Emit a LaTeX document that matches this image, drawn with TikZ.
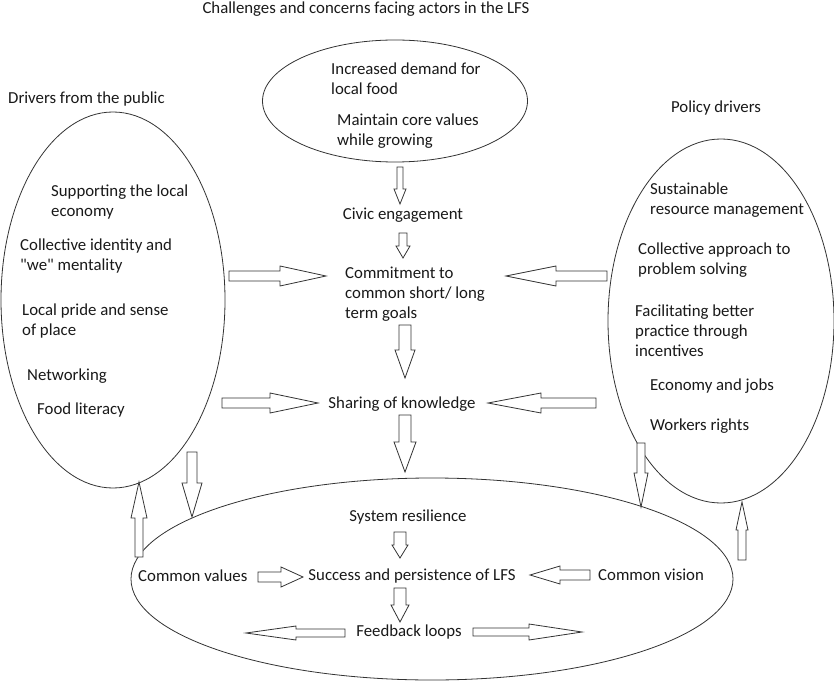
\documentclass[tikz,border=0pt]{standalone}
\usepackage{fontspec}
\setmainfont{Carlito}
\usetikzlibrary{shapes.geometric}
\newcommand{\blockarrow}[5]{%
  \path (#1); \pgfgetlastxy{\baAx}{\baAy}%
  \path (#2); \pgfgetlastxy{\baBx}{\baBy}%
  \pgfmathsetmacro\baAng{atan2(\baBy-\baAy,\baBx-\baAx)}%
  \pgfmathsetmacro\baLen{veclen(\baBx-\baAx,\baBy-\baAy)}%
  \pgfmathsetmacro\baHb{\baLen-#5}%
  \begin{scope}[shift={(\baAx,\baAy)},rotate=\baAng]
    \draw[blk] (0pt,#3pt) -- (\baHb pt,#3pt) -- (\baHb pt,#4pt) -- (\baLen pt,0pt)
      -- (\baHb pt,-#4pt) -- (\baHb pt,-#3pt) -- (0pt,-#3pt) -- cycle;
  \end{scope}}
\begin{document}
\begin{tikzpicture}[x=1pt,y=-1pt,
  lbl/.style={inner sep=0pt, align=left, text=black!90, font=\fontsize{16.8}{20}\selectfont},
  ell/.style={draw=black!80, line width=0.8pt, ellipse, inner sep=0pt},
  blk/.style={draw=black!80, line width=0.8pt, fill=white, line join=miter}]
\useasboundingbox[fill=white] (0,0) rectangle (834,684);

% titles
\node[lbl] (title) at (366,9) {Challenges and concerns facing actors in the LFS};
\node[lbl, anchor=west] (pubtitle) at (8,99) {Drivers from the public};
\node[lbl] (poltitle) at (716,108) {Policy drivers};

% ellipses
\node[ell, minimum width=265pt, minimum height=122pt] (top) at (395,101) {};
\node[ell, minimum width=224pt, minimum height=376pt] (pub) at (113,300) {};
\node[ell, minimum width=226pt, minimum height=364pt] (pol) at (721,321) {};
\node[ell, minimum width=602pt, minimum height=202pt] (bot) at (432,579) {};

% top ellipse text
\node[lbl, anchor=west] (demand) at (331,79) {Increased demand for\\local food};
\node[lbl, anchor=west] (core) at (337,131) {Maintain core values\\while growing};

% public drivers
\node[lbl, anchor=west] (econ) at (51,202) {Supporting the local\\economy};
\node[lbl, anchor=west] (ident) at (20,256) {Collective identity and\\\textquotedbl we\textquotedbl{} mentality};
\node[lbl, anchor=west] (pride) at (22,321) {Local pride and sense\\of place};
\node[lbl, anchor=west] (netw) at (27,376) {Networking};
\node[lbl, anchor=west] (lit) at (37,410) {Food literacy};

% policy drivers
\node[lbl, anchor=west] (sust) at (650,200) {Sustainable\\resource management};
\node[lbl, anchor=west] (coll) at (638,260) {Collective approach to\\problem solving};
\node[lbl, anchor=west] (facil) at (635,331) {Facilitating better\\practice through\\incentives};
\node[lbl, anchor=west] (jobs) at (650,386) {Economy and jobs};
\node[lbl, anchor=west] (work) at (650,426) {Workers rights};

% centre column
\node[lbl] (civic) at (403,215) {Civic engagement};
\node[lbl, anchor=west] (commit) at (345,294) {Commitment to\\common short/ long\\term goals};
\node[lbl] (share) at (402,404) {Sharing of knowledge};

% bottom ellipse text
\node[lbl] (resil) at (408,517) {System resilience};
\node[lbl, anchor=west] (cval) at (138,576) {Common values};
\node[lbl] (succ) at (412,576) {Success and persistence of LFS};
\node[lbl, anchor=west] (cvis) at (598,575) {Common vision};
\node[lbl] (feed) at (409,632) {Feedback loops};

% arrow end points
\coordinate (a1s) at (400,167);  \coordinate (a1e) at (400,204);
\coordinate (a2s) at (403,233);  \coordinate (a2e) at (403,258);
\coordinate (a3s) at (405,325);  \coordinate (a3e) at (405,378);
\coordinate (a4s) at (405,415);  \coordinate (a4e) at (405,472);
\coordinate (a5s) at (229,276);  \coordinate (a5e) at (326,276);
\coordinate (a6s) at (222,403);  \coordinate (a6e) at (318,403);
\coordinate (a7s) at (607,276);  \coordinate (a7e) at (506,276);
\coordinate (a8s) at (596,403);  \coordinate (a8e) at (488,403);
\coordinate (a9s) at (192,452);  \coordinate (a9e) at (192,517);
\coordinate (a10s) at (139,557); \coordinate (a10e) at (139,482);
\coordinate (a11s) at (641,443); \coordinate (a11e) at (641,507);
\coordinate (a12s) at (742,560); \coordinate (a12e) at (742,502);
\coordinate (a13s) at (400,532); \coordinate (a13e) at (400,558);
\coordinate (a14s) at (400,588); \coordinate (a14e) at (400,622);
\coordinate (a15s) at (258,577); \coordinate (a15e) at (303,577);
\coordinate (a16s) at (590,575); \coordinate (a16e) at (530,575);
\coordinate (a17s) at (345,633); \coordinate (a17e) at (246,633);
\coordinate (a18s) at (473,632); \coordinate (a18e) at (582,632);

\blockarrow{a1s}{a1e}{3}{6}{15}
\blockarrow{a2s}{a2e}{4}{7}{12}
\blockarrow{a3s}{a3e}{6}{10}{28}
\blockarrow{a4s}{a4e}{6}{11}{30}
\blockarrow{a5s}{a5e}{5}{10}{46}
\blockarrow{a6s}{a6e}{5}{10}{48}
\blockarrow{a7s}{a7e}{5}{10}{50}
\blockarrow{a8s}{a8e}{5}{10}{53}
\blockarrow{a9s}{a9e}{5}{10}{34}
\blockarrow{a10s}{a10e}{4}{8}{36}
\blockarrow{a11s}{a11e}{4}{7}{34}
\blockarrow{a12s}{a12e}{4}{6}{28}
\blockarrow{a13s}{a13e}{6}{8}{13}
\blockarrow{a14s}{a14e}{6}{9}{17}
\blockarrow{a15s}{a15e}{5}{10}{22}
\blockarrow{a16s}{a16e}{5}{9}{30}
\blockarrow{a17s}{a17e}{4}{7}{50}
\blockarrow{a18s}{a18e}{4}{8}{53}
\end{tikzpicture}
\end{document}
